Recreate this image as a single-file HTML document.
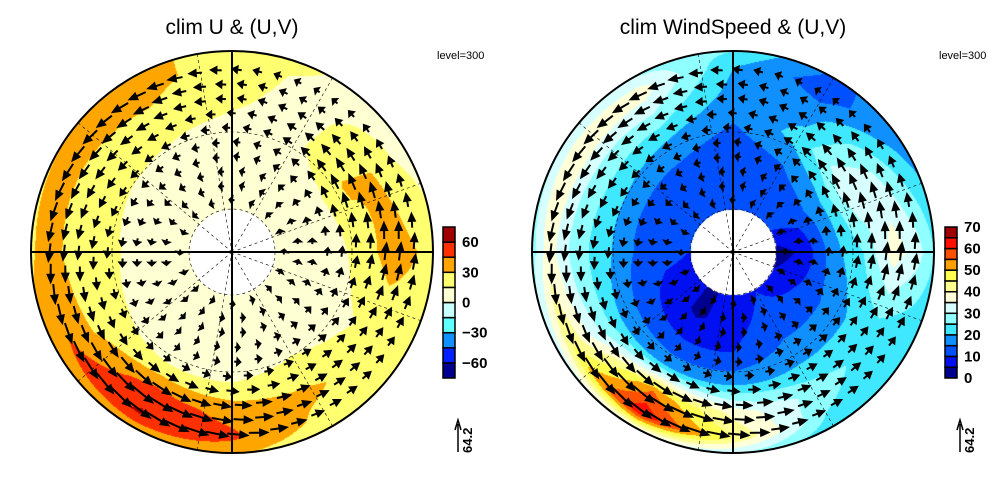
<!DOCTYPE html>
<html><head><meta charset="utf-8">
<style>
html,body{margin:0;padding:0;background:#fff;}
#wrap{position:relative;width:1004px;height:504px;overflow:hidden;font-family:"Liberation Sans",sans-serif;}
canvas,svg{position:absolute;left:0;top:0;}
.t{position:absolute;font-size:21px;color:#000;white-space:nowrap;transform:translateX(-50%);}
.lv{position:absolute;font-size:11px;}
</style></head><body>
<div id="wrap">
<canvas id="cv" width="1004" height="504"></canvas>
<svg id="sv" width="1004" height="504"></svg>
<div class="t" style="left:232px;top:16px">clim U &amp; (U,V)</div>
<div class="t" style="left:733px;top:16px">clim WindSpeed &amp; (U,V)</div>
<div class="lv" style="left:437px;top:50px">level=300</div>
<div class="lv" style="left:939px;top:50px">level=300</div>
</div>
<script>
// polar data grid: angles (deg, CCW from east on screen), radii (px)
const angles=[0,30,60,90,120,150,180,210,240,270,300,330];
const radii=[45,70,100,130,160,185,201];
const uField=[
[5,5,8,22,38,30,20],
[5,5,12,32,30,15,10],
[5,5,8,12,10,10,14],
[5,5,8,13,18,22,30],
[5,5,10,16,28,36,30],
[5,5,10,18,25,36,30],
[5,5,12,20,26,36,28],
[5,5,10,18,30,46,35],
[0,5,0,16,52,62,35],
[5,5,8,15,40,48,32],
[5,5,10,18,33,25,18],
[5,5,8,13,18,20,18]];
const wsField=[
[3,6,18,25,38,32,25],
[10,12,20,35,30,22,18],
[10,12,15,22,18,12,14],
[10,10,12,15,18,20,25],
[10,12,14,20,30,38,30],
[10,12,15,22,30,40,30],
[10,12,15,22,28,38,28],
[8,8,12,20,32,45,32],
[4,4,10,18,55,64,35],
[7,8,10,18,38,45,30],
[10,12,15,20,28,25,22],
[6,10,15,20,22,20,20]];
const uTicks=[60,30,0,-30,-60];
const wsTicks=[70,60,50,40,30,20,10,0];
const refVector=64.2;

const uColors=['#000090','#0020ff','#1090ff','#60ffff','#c8ffff','#ffffd4','#ffff70','#ffa500','#ff3000','#a00000'];
const wsColors=['#000090','#0010f0','#0050ff','#1090ff','#40e8ff','#90ffff','#d8ffff','#ffffd8','#ffff90','#ffff50','#ffa000','#ff5000','#ff1000','#a00000'];
const R=201,HOLE=43;
const P1={cx:232,cy:252},P2={cx:733,cy:252};

function interp(f,a,r){
  a=((a%360)+360)%360;
  const i=Math.floor(a/30)%12,j=(i+1)%12,fa=(a-i*30)/30;
  let k=0,fr;
  if(r<=radii[0]){k=0;fr=0;}
  else if(r>=radii[radii.length-1]){k=radii.length-2;fr=1;}
  else{while(r>radii[k+1])k++;fr=(r-radii[k])/(radii[k+1]-radii[k]);}
  const v=(g)=>g[k]*(1-fr)+g[k+1]*fr;
  return v(f[i])*(1-fa)+v(f[j])*fa;
}
const cv=document.getElementById('cv'),ctx=cv.getContext('2d');
const img=ctx.createImageData(1004,504);
function hex(c){return [parseInt(c.substr(1,2),16),parseInt(c.substr(3,2),16),parseInt(c.substr(5,2),16)];}
const uRGB=uColors.map(hex),wsRGB=wsColors.map(hex);
for(let i=0;i<img.data.length;i+=4){img.data[i]=img.data[i+1]=img.data[i+2]=255;img.data[i+3]=255;}
function paint(P,f,cols,lo,step){
  for(let y=P.cy-R;y<=P.cy+R;y++)for(let x=P.cx-R;x<=P.cx+R;x++){
    const dx=x-P.cx,dy=P.cy-y,r=Math.hypot(dx,dy);
    if(r>R||r<HOLE)continue;
    const a=Math.atan2(dy,dx)*180/Math.PI;
    const v=interp(f,a,r);
    let idx=Math.floor((v-lo)/step);idx=Math.max(0,Math.min(cols.length-1,idx));
    const c=cols[idx],o=(y*1004+x)*4;
    img.data[o]=c[0];img.data[o+1]=c[1];img.data[o+2]=c[2];
  }
}
paint(P1,uField,uRGB,-75,15);
paint(P2,wsField,wsRGB,0,5);
ctx.putImageData(img,0,0);

const NS='http://www.w3.org/2000/svg';
const sv=document.getElementById('sv');
function mk(t,attrs){const e=document.createElementNS(NS,t);for(const k in attrs)e.setAttribute(k,attrs[k]);sv.appendChild(e);return e;}

function frame(P,tag){
  [HOLE,120].forEach(rr=>{
    const c=mk('circle',{cx:P.cx,cy:P.cy,r:rr,fill:'none',stroke:'#000','stroke-width':0.6,'stroke-dasharray':'3,3'});
    
    
  });
  for(let a=20;a<360;a+=40){
    const t=a*Math.PI/180;
    const l=mk('line',{x1:P.cx,y1:P.cy,x2:P.cx+R*Math.cos(t),y2:P.cy-R*Math.sin(t),stroke:'#000','stroke-width':0.6,'stroke-dasharray':'3,3'});
    
    
  }
  for(let rr=52;rr<=196;rr+=14.5){
    const n=Math.round(2*Math.PI*rr/21);
    for(let m=0;m<n;m++){
      const a=(m+0.5*(Math.round(rr)%2))*360/n,t=a*Math.PI/180;
      const x=P.cx+rr*Math.cos(t),y=P.cy-rr*Math.sin(t);
      const s=interp(wsField,a,rr);
      const L=Math.max(5,s*30/refVector);
      const ux=-Math.sin(t)+0.12*Math.cos(t),uy=-Math.cos(t)-0.12*Math.sin(t);
      const nrm=Math.hypot(ux,uy),ex=ux/nrm,ey=uy/nrm;
      const x0=x-ex*L/2,y0=y-ey*L/2,x1=x+ex*L/2,y1=y+ey*L/2;
      const h=Math.min(7,L*0.5),w=3;
      const bx=x1-ex*h,by=y1-ey*h;
      const g=document.createElementNS(NS,'path');
      g.setAttribute('d',`M${x0},${y0}L${bx},${by}M${x1},${y1}L${bx-ey*w},${by+ex*w}L${bx+ey*w},${by-ex*w}Z`);
      g.setAttribute('stroke','#000');g.setAttribute('stroke-width','2');g.setAttribute('fill','#000');
      
      
      sv.appendChild(g);
    }
  }
  const h=mk('line',{x1:P.cx-R,y1:P.cy,x2:P.cx+R,y2:P.cy,stroke:'#000','stroke-width':2});
  
  const v=mk('line',{x1:P.cx,y1:P.cy-R,x2:P.cx,y2:P.cy+R,stroke:'#000','stroke-width':2});
  
  const c=mk('circle',{cx:P.cx,cy:P.cy,r:R,fill:'none',stroke:'#000','stroke-width':2});
  
}
frame(P1,'left');frame(P2,'right');

function colorbar(x0,cols,ticks,lo,hi,tag){
  const top=227,bot=378,n=cols.length,bh=(bot-top)/n;
  for(let i=0;i<n;i++){
    const r=mk('rect',{x:x0,y:bot-(i+1)*bh,width:12,height:bh,fill:cols[i],stroke:'#000','stroke-width':1.5});
    
  }
  ticks.forEach(tv=>{
    const y=bot-(tv-lo)/(hi-lo)*(bot-top);
    const t=mk('text',{x:x0+19,y:y+5,'font-size':15,'font-weight':'bold','font-family':'Liberation Sans, sans-serif'});
    t.textContent=(tv<0?'\u2212'+(-tv):tv);
    
  });
  const ax=x0+15;
  const a=mk('path',{d:`M${ax},452L${ax},424M${ax-3},430L${ax},420L${ax+3},430`,stroke:'#000','stroke-width':1.5,fill:'none'});
  
  const t=mk('text',{x:0,y:0,'font-size':13,'font-weight':'bold','font-family':'Liberation Sans, sans-serif',transform:`translate(${ax+14},453) rotate(-90)`});
  t.textContent=refVector;
  
}
colorbar(443,uColors,uTicks,-75,75,'left');
colorbar(945,wsColors,wsTicks,0,70,'right');
</script>
</body></html>
